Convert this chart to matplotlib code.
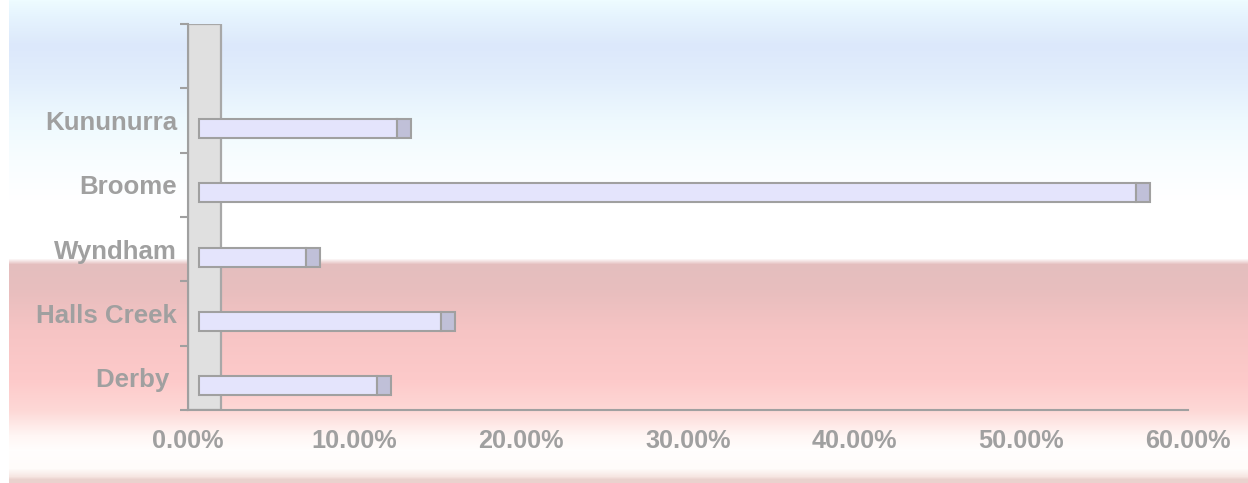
import numpy as np
import matplotlib
matplotlib.use('Agg')
import matplotlib.pyplot as plt
from matplotlib.colors import to_rgb

towns = ['Derby ', 'Halls Creek', 'Wyndham', 'Broome', 'Kununurra']
share = [10.7, 14.5, 6.4, 56.2, 11.9]   # percent
x_ticks = [0, 10, 20, 30, 40, 50, 60]

W, H = 1248, 483
grey = '#a0a0a0'

plt.rcParams['font.family'] = ['Liberation Sans', 'DejaVu Sans']

fig = plt.figure(figsize=(W / 100, H / 100), dpi=100)
fig.patch.set_facecolor('white')

# background gradient (blue top, pink band lower down)
stops = [(0, '#eefcff'), (15, '#e6f4fe'), (45, '#dce8fb'), (80, '#e2eefc'),
         (120, '#eef9fe'), (160, '#f8fdff'), (200, '#ffffff'), (258, '#ffffff'),
         (264, '#e4bebe'), (290, '#e8bebe'), (330, '#f6c4c4'), (380, '#fdcaca'),
         (410, '#fdd8d6'), (435, '#fff6f4'), (450, '#fffefd'), (468, '#fffcfa'),
         (476, '#f6e6e2'), (479, '#ead2ce'), (483, '#ead2ce')]
ys = np.arange(H)
sy = [s[0] for s in stops]
cols = np.array([to_rgb(s[1]) for s in stops])
grad = np.stack([np.interp(ys, sy, cols[:, k]) for k in range(3)], axis=1)
bg = fig.add_axes([9 / W, 0, 1 - 9 / W, 1], zorder=-5)
bg.imshow(grad[:, None, :], aspect='auto', extent=[0, 1, 1, 0])
bg.axis('off')

# plot area: x 188..1188 px, y 24..410 px
x0, x1, ytop, ybot = 188, 1188, 24, 410
ax = fig.add_axes([x0 / W, 1 - ybot / H, (x1 - x0) / W, (ybot - ytop) / H])
ax.patch.set_alpha(0)
ax.set_xlim(0, 60)
ax.set_ylim(-0.5, 5.5)

px = 60 / (x1 - x0)          # data units per pixel in x
py = 6 / (ybot - ytop)       # data units per pixel in y

# side wall (3D depth)
ax.axvspan(0, 33 * px, facecolor='#e0e0e0', edgecolor='#a8a8a8', lw=1.6, zorder=1)

pos = np.arange(len(towns))
off = 11 * px
cap = 14 * px
bh = 19 * py
yc = pos - 8 * py
ax.barh(yc, share, left=off, height=bh, color='#e4e4fc', edgecolor=grey, lw=1.5, zorder=3)
ax.barh(yc, cap, left=np.array(share) + off, height=bh, color='#c0c0d8',
        edgecolor=grey, lw=1.5, zorder=3)

for s in ['top', 'right']:
    ax.spines[s].set_visible(False)
for s in ['left', 'bottom']:
    ax.spines[s].set_color(grey)
    ax.spines[s].set_linewidth(1.5)

ax.set_yticks(np.arange(-0.5, 6, 1))
ax.set_yticklabels([])
ax.tick_params(axis='y', which='major', length=6, width=1.5, color=grey, direction='out')
ax.set_yticks(pos, minor=True)
ax.set_yticklabels(towns, minor=True)
ax.tick_params(axis='y', which='minor', length=0, pad=8, labelsize=18.6, labelcolor=grey)
for t in ax.get_yticklabels(minor=True):
    t.set_fontweight('bold')

ax.set_xticks(x_ticks)
ax.set_xticklabels(['%.2f%%' % v for v in x_ticks])
ax.tick_params(axis='x', which='major', length=0, pad=14, labelsize=18.2, labelcolor=grey)
for t in ax.get_xticklabels():
    t.set_fontweight('bold')
ax.set_xticks([0, 60], minor=True)
ax.tick_params(axis='x', which='minor', length=6, width=1.5, color=grey, direction='out')

fig.savefig('out.png', dpi=100)
